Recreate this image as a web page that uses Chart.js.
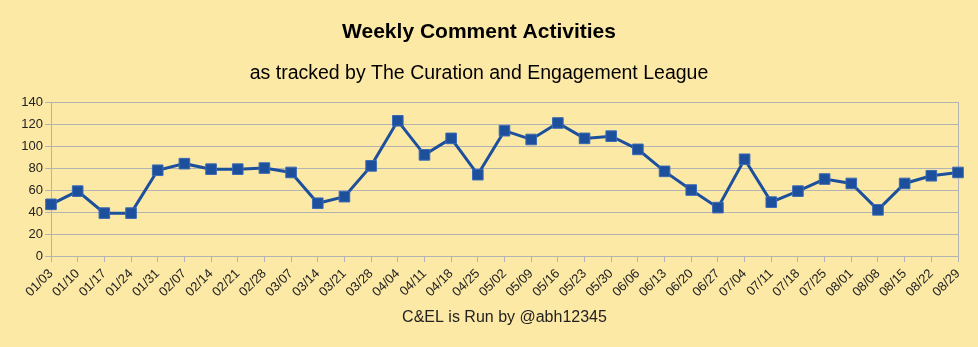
<!DOCTYPE html>
<html>
<head>
<meta charset="utf-8">
<script src="https://cdn.jsdelivr.net/npm/chart.js@4"></script>
<style>
  html, body { margin: 0; padding: 0; background: #fde9a6; }
  #wrap { width: 978px; height: 347px; }
</style>
</head>
<body>
<div id="wrap"><canvas id="activity-chart"></canvas></div>
<script>
// Weekly comment counts, one entry per week
const weeks = ['01/03', '01/10', '01/17', '01/24', '01/31', '02/07', '02/14', '02/21', '02/28',
    '03/07', '03/14', '03/21', '03/28', '04/04', '04/11', '04/18', '04/25', '05/02', '05/09',
    '05/16', '05/23', '05/30', '06/06', '06/13', '06/20', '06/27', '07/04', '07/11', '07/18',
    '07/25', '08/01', '08/08', '08/15', '08/22', '08/29'];
const comments = [47, 59, 39, 39, 78, 84, 79, 79, 80, 76, 48, 54, 82, 123, 92, 107, 74, 114, 106,
    121, 107, 109, 97, 77, 60, 44, 88, 49, 59, 70, 66, 42, 66, 73, 76];
const yTicks = [0, 20, 40, 60, 80, 100, 120, 140];

const chartTitle = 'Weekly Comment Activities';
const chartSubtitle = 'as tracked by The Curation and Engagement League';
const footerText = 'C&EL is Run by @abh12345';

const FONT = "'Liberation Sans', Arial, sans-serif";
const BG = '#fde9a6';
const GRID = '#b3b3b3';
const LINE = '#1c4f9c';

// page fill plus a frame around the plot area (top/right edges aren't drawn by the axes)
const plotFrame = {
    id: 'plotFrame',
    beforeDraw(chart) {
        const { ctx } = chart;
        ctx.save();
        ctx.fillStyle = BG;
        ctx.fillRect(0, 0, chart.width, chart.height);
        ctx.restore();
    },
    beforeDatasetsDraw(chart) {
        const { ctx, chartArea: a } = chart;
        ctx.save();
        ctx.strokeStyle = GRID;
        ctx.lineWidth = 1;
        ctx.strokeRect(Math.round(a.left) + 0.5, Math.round(a.top) + 0.5,
            Math.round(a.right - a.left), Math.round(a.bottom - a.top));
        ctx.restore();
    }
};

new Chart(document.getElementById('activity-chart'), {
    type: 'line',
    data: {
        labels: weeks,
        datasets: [{
            data: comments,
            borderColor: LINE,
            borderWidth: 3,
            backgroundColor: LINE,
            pointStyle: 'rect',
            pointRadius: 7.5,
            pointBorderWidth: 1,
            pointBorderColor: '#3b6bb5',
            pointBackgroundColor: LINE,
            tension: 0
        }]
    },
    options: {
        responsive: true,
        maintainAspectRatio: false,
        animation: false,
        layout: { padding: { left: 0, right: 20, top: 0, bottom: 0 } },
        plugins: {
            legend: { display: false },
            tooltip: { enabled: false },
            title: {
                display: true,
                text: chartTitle,
                color: '#000',
                font: { family: FONT, size: 21, weight: 'bold' },
                padding: { top: 20, bottom: 17 }
            },
            subtitle: {
                display: true,
                text: chartSubtitle,
                color: '#000',
                font: { family: FONT, size: 19.5 },
                padding: { top: 0, bottom: 16.5 }
            }
        },
        scales: {
            x: {
                offset: false,
                afterFit(scale) { scale.height = 91; },
                grid: { drawOnChartArea: false, drawTicks: true, tickLength: 6, color: GRID },
                border: { color: GRID },
                ticks: {
                    color: '#222',
                    font: { family: FONT, size: 13 },
                    minRotation: 45,
                    maxRotation: 45,
                    autoSkip: false,
                    padding: 4
                },
                title: {
                    display: true,
                    text: footerText,
                    color: '#222',
                    font: { family: FONT, size: 16 },
                    padding: { top: 0, bottom: 20 }
                }
            },
            y: {
                min: 0,
                max: 140,
                afterBuildTicks(scale) {
                    scale.ticks = yTicks.map(v => ({ value: v }));
                },
                afterFit(scale) { scale.width = 51; },
                grid: { color: GRID, tickLength: 6 },
                border: { color: GRID },
                ticks: {
                    color: '#222',
                    font: { family: FONT, size: 13 },
                    padding: 2
                }
            }
        }
    },
    plugins: [plotFrame]
});
</script>
</body>
</html>
